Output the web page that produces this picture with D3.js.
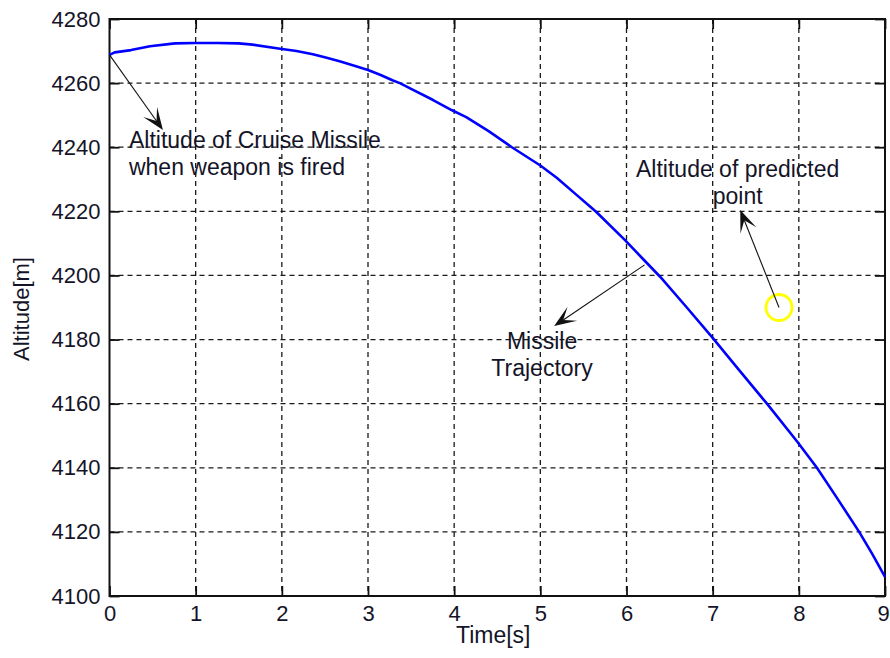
<!DOCTYPE html>
<html>
<head>
<meta charset="utf-8">
<script src="https://cdn.jsdelivr.net/npm/d3@7"></script>
<style>
  body { margin: 0; background: #fff; }
  text { font-family: "Liberation Sans", Arial, Helvetica, sans-serif; fill: #141428; }
</style>
</head>
<body>
<svg id="chart" width="890" height="658"></svg>
<script>
// Missile trajectory: time [s] and altitude [m]
const timeS = [0, 0.06, 0.25, 0.47, 0.76, 1.0, 1.25, 1.5, 1.66, 1.96, 2.17, 2.36, 2.52, 2.67, 2.87,
  3.0, 3.14, 3.29, 3.37, 3.5, 3.75, 3.97, 4.14, 4.4, 4.67, 5.0, 5.19, 5.4, 5.58, 5.65, 5.98,
  6.2, 6.39, 6.7, 7.0, 7.3, 7.63, 7.98, 8.21, 8.45, 8.7, 8.85, 9.0];
const altitudeM = [4268.8, 4269.6, 4270.3, 4271.5, 4272.4, 4272.5, 4272.5, 4272.4, 4272.0, 4270.8,
  4270.0, 4269.0, 4267.9, 4266.8, 4265.2, 4264.1, 4262.6, 4260.8, 4260.0, 4258.2, 4254.8,
  4251.6, 4249.4, 4245.0, 4240.0, 4234.3, 4230.5, 4225.6, 4221.4, 4219.8, 4211.1, 4204.9,
  4199.6, 4190.0, 4180.5, 4170.7, 4160.0, 4148.2, 4140.0, 4130.3, 4120.0, 4113.2, 4106.0];

const xTickValues = [0, 1, 2, 3, 4, 5, 6, 7, 8, 9];
const yTickValues = [4100, 4120, 4140, 4160, 4180, 4200, 4220, 4240, 4260, 4280];

// Predicted point (time, altitude)
const predictedPoint = [7.77, 4190];

// Annotation arrows in data units: tail -> head
const arrowTails = [[0, 4268.8], [6.21, 4203.3], [7.77, 4190]];
const arrowHeads = [[0.62, 4245.4], [5.16, 4184.2], [7.32, 4220.4]];

// Annotation texts in data units
const noteLines = [
  ["Altitude of Cruise Missile", "when weapon is fired"],
  ["Missile", "Trajectory"],
  ["Altitude of predicted", "point"]
];
const noteAnchors = [[0.226, 4239.8], [5.02, 4177.1], [7.29, 4230.8]];
const noteAlign = ["start", "middle", "middle"];

const xLabel = "Time[s]";
const yLabel = "Altitude[m]";

const W = 890, H = 658;
const margin = { top: 19, right: 5, bottom: 62, left: 109.5 };
const innerW = W - margin.left - margin.right;
const innerH = H - margin.top - margin.bottom;

const svg = d3.select("#chart");
const g = svg.append("g").attr("transform", `translate(${margin.left},${margin.top})`);

const x = d3.scaleLinear().domain([0, 9]).range([0, innerW]);
const y = d3.scaleLinear().domain([4100, 4280]).range([innerH, 0]);

// Dashed grid
const grid = g.append("g").attr("stroke", "#1a1a1a").attr("stroke-width", 1.3)
  .attr("stroke-dasharray", "5,4");
grid.selectAll("line.gx").data(xTickValues.slice(1, -1)).join("line")
  .attr("x1", d => x(d)).attr("x2", d => x(d)).attr("y1", 0).attr("y2", innerH);
grid.selectAll("line.gy").data(yTickValues.slice(1, -1)).join("line")
  .attr("x1", 0).attr("x2", innerW).attr("y1", d => y(d)).attr("y2", d => y(d));

// Axes with inward ticks on all four sides
const tickLen = 10;
function styleAxis(sel) {
  sel.select(".domain").remove();
  sel.selectAll(".tick line").attr("stroke", "#111").attr("stroke-width", 1.8);
  sel.selectAll(".tick text").attr("font-size", 22).attr("fill", "#141428");
}
const xAxisG = g.append("g").attr("transform", `translate(0,${innerH})`)
  .call(d3.axisBottom(x).tickValues(xTickValues).tickFormat(d3.format("d"))
    .tickSizeInner(-tickLen).tickSizeOuter(0).tickPadding(9))
  .call(styleAxis);
// keep the last label inside the figure edge
xAxisG.selectAll(".tick text").filter(d => d === xTickValues[xTickValues.length - 1])
  .attr("dx", -2);
g.append("g")
  .call(d3.axisLeft(y).tickValues(yTickValues).tickFormat(d3.format("d"))
    .tickSizeInner(-tickLen).tickSizeOuter(0).tickPadding(9))
  .call(styleAxis);
g.append("g")
  .call(d3.axisTop(x).tickValues(xTickValues).tickFormat("")
    .tickSizeInner(-tickLen).tickSizeOuter(0))
  .call(styleAxis);
g.append("g").attr("transform", `translate(${innerW},0)`)
  .call(d3.axisRight(y).tickValues(yTickValues).tickFormat("")
    .tickSizeInner(-tickLen).tickSizeOuter(0))
  .call(styleAxis);

// Box
g.append("rect").attr("x", 0).attr("y", 0).attr("width", innerW).attr("height", innerH)
  .attr("fill", "none").attr("stroke", "#111").attr("stroke-width", 2);

// Trajectory
const pts = timeS.map((t, i) => [t, altitudeM[i]]);
g.append("path").datum(pts)
  .attr("fill", "none").attr("stroke", "#0000ff").attr("stroke-width", 2.6)
  .attr("stroke-linejoin", "round")
  .attr("d", d3.line().x(d => x(d[0])).y(d => y(d[1])));

// Predicted point marker
g.append("circle")
  .attr("cx", x(predictedPoint[0])).attr("cy", y(predictedPoint[1])).attr("r", 13)
  .attr("fill", "none").attr("stroke", "#ffff00").attr("stroke-width", 2.8);

// Arrows
const headLen = 22, headHalf = 8.5, notch = 0.5;
arrowTails.forEach((tail, i) => {
  const x0 = x(tail[0]), y0 = y(tail[1]);
  const x1 = x(arrowHeads[i][0]), y1 = y(arrowHeads[i][1]);
  const ang = Math.atan2(y1 - y0, x1 - x0);
  const ag = g.append("g");
  ag.append("line").attr("x1", x0).attr("y1", y0)
    .attr("x2", x1 - Math.cos(ang) * headLen * 0.5).attr("y2", y1 - Math.sin(ang) * headLen * 0.5)
    .attr("stroke", "#111").attr("stroke-width", 1.1);
  const head = [[0, 0], [-headLen, -headHalf], [-headLen * notch, 0], [-headLen, headHalf]];
  ag.append("path")
    .attr("d", "M" + head.map(p => p.join(",")).join("L") + "Z")
    .attr("transform", `translate(${x1},${y1}) rotate(${ang * 180 / Math.PI})`)
    .attr("fill", "#111");
});

// Annotation texts
noteLines.forEach((lines, i) => {
  const t = g.append("text")
    .attr("x", x(noteAnchors[i][0])).attr("y", y(noteAnchors[i][1]))
    .attr("font-size", 23).attr("text-anchor", noteAlign[i]);
  lines.forEach((ln, j) => {
    t.append("tspan").attr("x", x(noteAnchors[i][0])).attr("dy", j === 0 ? 0 : 27).text(ln);
  });
});

// Axis labels
svg.append("text").attr("x", margin.left + innerW / 2 - 4).attr("y", 643)
  .attr("text-anchor", "middle").attr("font-size", 23).text(xLabel);
svg.append("text").attr("transform", "translate(29,309) rotate(-90)")
  .attr("text-anchor", "middle").attr("font-size", 22).text(yLabel);
</script>
</body>
</html>
